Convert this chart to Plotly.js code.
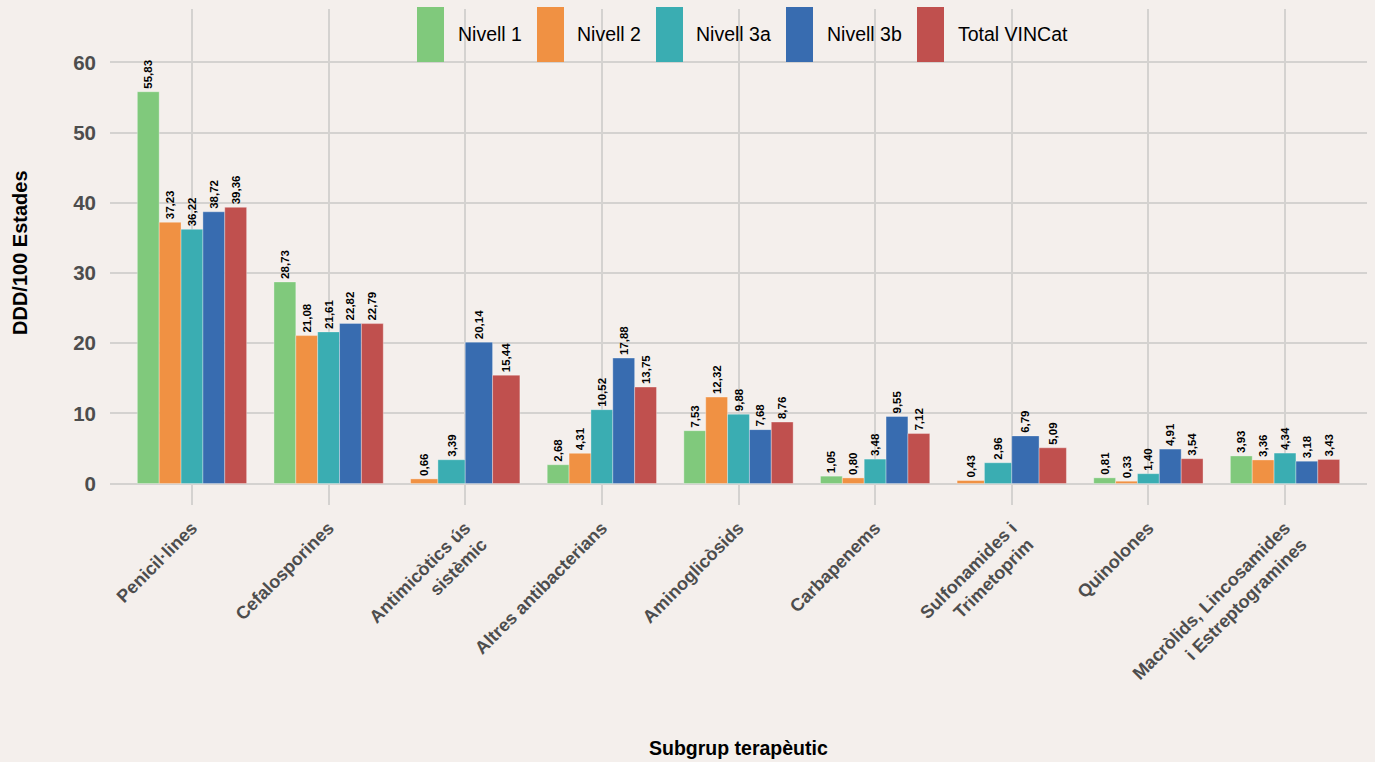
<!DOCTYPE html>
<html>
<head>
<meta charset="utf-8">
<script src="https://cdn.plot.ly/plotly-3.0.1.min.js"></script>
<style>html,body{margin:0;padding:0;background:#F4EFEC;}#chart{width:1375px;height:762px;}</style>
</head>
<body>
<div id="chart"></div>
<script>
const categories = ["Penicil·lines", "Cefalosporines", "Antimicòtics ús sistèmic", "Altres antibacterians", "Aminoglicòsids", "Carbapenems", "Sulfonamides i Trimetoprim", "Quinolones", "Macròlids, Lincosamides i Estreptogramines"];
const tickLabels = ["Penicil·lines", "Cefalosporines", "Antimicòtics ús<br>sistèmic", "Altres antibacterians", "Aminoglicòsids", "Carbapenems", "Sulfonamides i<br>Trimetoprim", "Quinolones", "Macròlids, Lincosamides<br>i Estreptogramines"];
const seriesNames = ["Nivell 1", "Nivell 2", "Nivell 3a", "Nivell 3b", "Total VINCat"];
const nivell1 = [55.83, 28.73, null, 2.68, 7.53, 1.05, null, 0.81, 3.93];
const nivell2 = [37.23, 21.08, 0.66, 4.31, 12.32, 0.80, 0.43, 0.33, 3.36];
const nivell3a = [36.22, 21.61, 3.39, 10.52, 9.88, 3.48, 2.96, 1.40, 4.34];
const nivell3b = [38.72, 22.82, 20.14, 17.88, 7.68, 9.55, 6.79, 4.91, 3.18];
const totalVINCat = [39.36, 22.79, 15.44, 13.75, 8.76, 7.12, 5.09, 3.54, 3.43];
const yTicks = [0, 10, 20, 30, 40, 50, 60];

const seriesValues = [nivell1, nivell2, nivell3a, nivell3b, totalVINCat];
const colors = ["#80C97C", "#F09143", "#3AADB2", "#386CB0", "#C0504E"];

const W = 1375, H = 762;
const M = {l: 110, r: 8, t: 9, b: 257};
const pw = W - M.l - M.r, ph = H - M.t - M.b;
const px2x = p => (p - M.l) / pw;
const px2y = p => (H - M.b - p) / ph;

// dodge like ggplot: bars present in a group share the group width
const groupWidth = 0.8;
const offsets = seriesValues.map(() => []);
const widths = seriesValues.map(() => []);
categories.forEach((c, i) => {
  const present = seriesValues.map((s, k) => s[i] != null ? k : -1).filter(k => k >= 0);
  const w = groupWidth / present.length;
  seriesValues.forEach((s, k) => {
    const j = present.indexOf(k);
    offsets[k][i] = j >= 0 ? -groupWidth / 2 + j * w : 0;
    widths[k][i] = w;
  });
});

const traces = seriesValues.map((vals, k) => ({
  type: 'bar',
  name: seriesNames[k],
  x: categories,
  y: vals,
  offset: offsets[k],
  width: widths[k],
  marker: {color: colors[k], line: {color: 'rgba(255,255,255,0.55)', width: 0.6}},
  texttemplate: '%{y:.2f}',
  textposition: 'outside',
  textangle: -90,
  constraintext: 'none',
  cliponaxis: false,
  textfont: {family: 'Liberation Sans, Arial, sans-serif', size: 11.5, weight: 'bold', color: '#000000'},
  showlegend: false,
  hoverinfo: 'x+y+name'
}));

const gridColor = '#D4D2D0';
const shapes = [];
const annotations = [];
const keyStarts = [417, 537, 656, 786, 917];
const textStarts = [458, 577, 696, 827, 958];
seriesNames.forEach((n, k) => {
  shapes.push({type: 'rect', xref: 'paper', yref: 'paper',
    x0: px2x(keyStarts[k]), x1: px2x(keyStarts[k] + 27), y0: px2y(62), y1: px2y(7),
    fillcolor: colors[k], line: {width: 0}, layer: 'above'});
  annotations.push({xref: 'paper', yref: 'paper', x: px2x(textStarts[k] - 2), y: px2y(34),
    xanchor: 'left', yanchor: 'middle', showarrow: false, text: n,
    font: {family: 'Liberation Sans, Arial, sans-serif', size: 19.5, color: '#000000'}});
});
annotations.push({xref: 'paper', yref: 'paper', x: px2x(20), y: px2y(253), textangle: -90,
  xanchor: 'center', yanchor: 'middle', showarrow: false, text: 'DDD/100 Estades',
  font: {family: 'Liberation Sans, Arial, sans-serif', size: 20, weight: 'bold', color: '#000000'}});
annotations.push({xref: 'paper', yref: 'paper', x: px2x(738), y: px2y(748),
  xanchor: 'center', yanchor: 'middle', showarrow: false, text: 'Subgrup terapèutic',
  font: {family: 'Liberation Sans, Arial, sans-serif', size: 19.5, weight: 'bold', color: '#000000'}});

const layout = {
  width: W, height: H,
  margin: M,
  paper_bgcolor: '#F4EFEC',
  plot_bgcolor: '#F4EFEC',
  separators: ',.',
  barmode: 'overlay',
  showlegend: false,
  xaxis: {
    type: 'category',
    range: [-0.6, 8.6],
    tickvals: categories,
    ticktext: tickLabels,
    tickangle: -45,
    showgrid: true, gridcolor: gridColor, gridwidth: 2,
    zeroline: false, showline: false,
    ticks: '',
    ticklabelstandoff: 8,
    tickfont: {family: 'Liberation Sans, Arial, sans-serif', size: 18, weight: 'bold', color: '#4D4D4D'},
    automargin: false
  },
  yaxis: {
    range: [-3.06, 67.62],
    tickvals: yTicks,
    showgrid: true, gridcolor: gridColor, gridwidth: 2,
    zeroline: false, showline: false,
    ticks: '',
    ticklabelstandoff: 13,
    tickfont: {family: 'Liberation Sans, Arial, sans-serif', size: 20.5, weight: 'bold', color: '#4D4D4D'},
    automargin: false
  },
  shapes: shapes,
  annotations: annotations
};

Plotly.newPlot('chart', traces, layout, {displayModeBar: false, staticPlot: true});
</script>
</body>
</html>
